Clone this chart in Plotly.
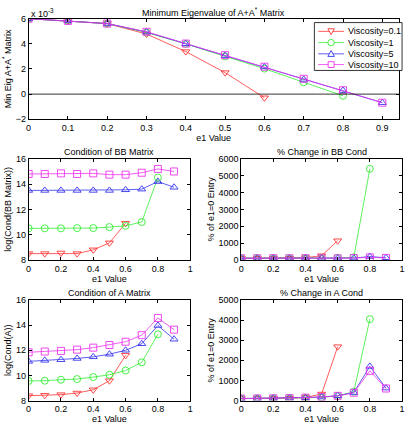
import plotly.graph_objects as go

x_all = [0, 0.1, 0.2, 0.3, 0.4, 0.5, 0.6, 0.7, 0.8, 0.9]
names = ["Viscosity=0.1", "Viscosity=1", "Viscosity=5", "Viscosity=10"]
npts = [7, 9, 10, 10]
colors = ["#ff3333", "#33ee33", "#3333ee", "#ee33ee"]
symbols = ["triangle-down-open", "circle-open", "triangle-up-open", "square-open"]

# Minimum eigenvalue (x 1e-3)
eig = [
    [6.0, 5.82, 5.61, 4.78, 3.38, 1.71, -0.29],
    [6.0, 5.82, 5.61, 4.9, 4.0, 3.0, 2.03, 0.94, -0.13],
    [6.0, 5.82, 5.61, 4.94, 4.0, 3.06, 2.16, 1.17, 0.29, -0.68],
    [6.0, 5.82, 5.61, 4.96, 4.02, 3.1, 2.18, 1.22, 0.31, -0.68],
]
# log(Cond(BB))
cond_bb = [
    [8.5, 8.5, 8.55, 8.5, 8.8, 9.35, 10.9],
    [10.5, 10.5, 10.5, 10.52, 10.52, 10.6, 10.7, 11.0, 14.52],
    [13.5, 13.5, 13.5, 13.5, 13.5, 13.5, 13.55, 13.6, 14.2, 13.75],
    [14.8, 14.8, 14.85, 14.8, 14.85, 14.75, 14.75, 14.9, 15.2, 15.0],
]
# % change in BB cond
pct_bb = [
    [100, 100, 105, 100, 135, 250, 1140],
    [100, 100, 100, 100, 100, 110, 122, 155, 5410],
    [100, 100, 100, 100, 100, 100, 105, 110, 200, 128],
    [100, 100, 105, 100, 105, 95, 95, 110, 150, 122],
]
# log(Cond(A))
cond_a = [
    [8.39, 8.42, 8.47, 8.6, 8.86, 9.58, 11.6],
    [9.56, 9.58, 9.66, 9.71, 9.87, 10.05, 10.39, 11.04, 13.27],
    [11.12, 11.2, 11.25, 11.35, 11.48, 11.69, 12.0, 12.52, 13.97, 12.88],
    [11.84, 11.9, 11.95, 12.05, 12.21, 12.42, 12.68, 13.2, 14.57, 13.64],
]
# % change in A cond
pct_a = [
    [100, 103, 108, 122, 160, 325, 2680],
    [100, 102, 110, 116, 136, 162, 230, 440, 4050],
    [100, 108, 114, 125, 143, 175, 240, 400, 1700, 620],
    [100, 106, 112, 123, 145, 180, 235, 390, 1480, 600],
]

FONT = "Liberation Sans, Arial, sans-serif"
W, H = 409, 430
fig = go.Figure()

datasets = [
    ("x", "y", eig),
    ("x2", "y2", cond_bb),
    ("x3", "y3", pct_bb),
    ("x4", "y4", cond_a),
    ("x5", "y5", pct_a),
]
for xa, ya, data in datasets:
    for i in range(4):
        fig.add_trace(go.Scatter(
            x=x_all[:npts[i]], y=data[i], mode="lines+markers",
            name=names[i], showlegend=False,
            line=dict(color=colors[i], width=0.8),
            marker=dict(symbol=symbols[i], size=7, color=colors[i], line=dict(width=0.9)),
            xaxis=xa, yaxis=ya,
        ))

def ax(domain, rng, dtick, title, anchor, standoff=2):
    return dict(domain=domain, range=rng, dtick=dtick, anchor=anchor,
                showline=True, linecolor="black", linewidth=0.8, mirror="allticks",
                ticks="inside", ticklen=3, tickcolor="black", showgrid=False, zeroline=False,
                tickfont=dict(size=9, color="black", family=FONT),
                title=dict(text=title, font=dict(size=9, color="black", family=FONT), standoff=standoff))

def px(a, b):
    return [a / W, b / W]
def py(top, bot):
    return [1 - bot / H, 1 - top / H]

def PX(v):
    return v / W
def PY(v):
    return 1 - v / H

shapes = [dict(type="line", xref="x domain", yref="y", x0=0, x1=1, y0=0, y1=0,
               line=dict(color="black", width=0.8))]
annotations = []

# --- compact MATLAB-style legend ---
lg_left, lg_right, lg_top, lg_bot = 316, 405, 18, 67
shapes.append(dict(type="rect", xref="paper", yref="paper",
                   x0=PX(lg_left), x1=PX(lg_right), y0=PY(lg_bot), y1=PY(lg_top),
                   line=dict(color="black", width=0.8), fillcolor="white", layer="above"))
row_y = [27, 38.5, 50, 61]
mx, r = 333, 3.3
for i in range(4):
    yy = row_y[i]
    c = colors[i]
    shapes.append(dict(type="line", xref="paper", yref="paper", x0=PX(320), x1=PX(346),
                       y0=PY(yy), y1=PY(yy), line=dict(color=c, width=0.8), layer="above"))
    if i == 0:
        path = f"M {PX(mx - r)} {PY(yy - r * 0.8)} L {PX(mx + r)} {PY(yy - r * 0.8)} L {PX(mx)} {PY(yy + r)} Z"
        shapes.append(dict(type="path", xref="paper", yref="paper", path=path,
                           line=dict(color=c, width=0.9), fillcolor="white", layer="above"))
    elif i == 1:
        shapes.append(dict(type="circle", xref="paper", yref="paper",
                           x0=PX(mx - r), x1=PX(mx + r), y0=PY(yy + r), y1=PY(yy - r),
                           line=dict(color=c, width=0.9), fillcolor="white", layer="above"))
    elif i == 2:
        path = f"M {PX(mx - r)} {PY(yy + r * 0.8)} L {PX(mx + r)} {PY(yy + r * 0.8)} L {PX(mx)} {PY(yy - r)} Z"
        shapes.append(dict(type="path", xref="paper", yref="paper", path=path,
                           line=dict(color=c, width=0.9), fillcolor="white", layer="above"))
    else:
        shapes.append(dict(type="rect", xref="paper", yref="paper",
                           x0=PX(mx - r + 0.3), x1=PX(mx + r - 0.3), y0=PY(yy + r - 0.3), y1=PY(yy - r + 0.3),
                           line=dict(color=c, width=0.9), fillcolor="white", layer="above"))
    annotations.append(dict(text=names[i], x=PX(348), y=PY(yy), xref="paper", yref="paper",
                            showarrow=False, xanchor="left", yanchor="middle",
                            font=dict(size=9, family=FONT, color="black")))

titles = [
    ("Minimum Eigenvalue of A+A<sup>*</sup> Matrix", (26 + 401.7) / 2, 7),
    ("Condition of BB Matrix", (26 + 190) / 2, 151),
    ("% Change in BB Cond", (241.7 + 405) / 2, 151),
    ("Condition of A Matrix", (26 + 190) / 2, 295),
    ("% Change in A Cond", (241.7 + 405) / 2, 295),
]
for t, cx, cy in titles:
    annotations.append(dict(text=t, x=cx / W, y=1 - cy / H, xref="paper", yref="paper",
                            showarrow=False, xanchor="center", yanchor="middle",
                            font=dict(size=9, family=FONT, color="black")))
annotations.append(dict(text="x 10<sup>-3</sup>", x=26 / W, y=1 - 8 / H, xref="paper", yref="paper",
                        showarrow=False, xanchor="left", yanchor="middle",
                        font=dict(size=9, family=FONT, color="black")))

fig.update_layout(
    width=W, height=H, margin=dict(l=0, r=0, t=0, b=0),
    paper_bgcolor="white", plot_bgcolor="white",
    font=dict(family=FONT, size=9, color="black"),
    showlegend=False,
    xaxis=ax(px(26, 401.7), [0, 0.942], 0.1, "e1 Value", "y", 0),
    yaxis=ax(py(14, 117), [-2, 6], 2, "Min Eig A+A<sup>*</sup> Matrix", "x"),
    xaxis2=ax(px(26, 190), [0, 1], 0.2, "e1 Value", "y2", 0),
    yaxis2=ax(py(157.5, 261), [8, 16], 2, "log(Cond(BB Matrix))", "x2"),
    xaxis3=ax(px(241.7, 405), [0, 1], 0.2, "e1 Value", "y3", 0),
    yaxis3=ax(py(157.5, 261), [0, 6000], 1000, "% of e1=0 Entry", "x3"),
    xaxis4=ax(px(26, 190), [0, 1], 0.2, "e1 Value", "y4", 0),
    yaxis4=ax(py(302, 405), [8, 16], 2, "log(Cond(A))", "x4"),
    xaxis5=ax(px(241.7, 405), [0, 1], 0.2, "e1 Value", "y5", 0),
    yaxis5=ax(py(302, 405), [0, 5000], 1000, "% of e1=0 Entry", "x5"),
    shapes=shapes,
    annotations=annotations,
)

fig.write_html("out.html")
